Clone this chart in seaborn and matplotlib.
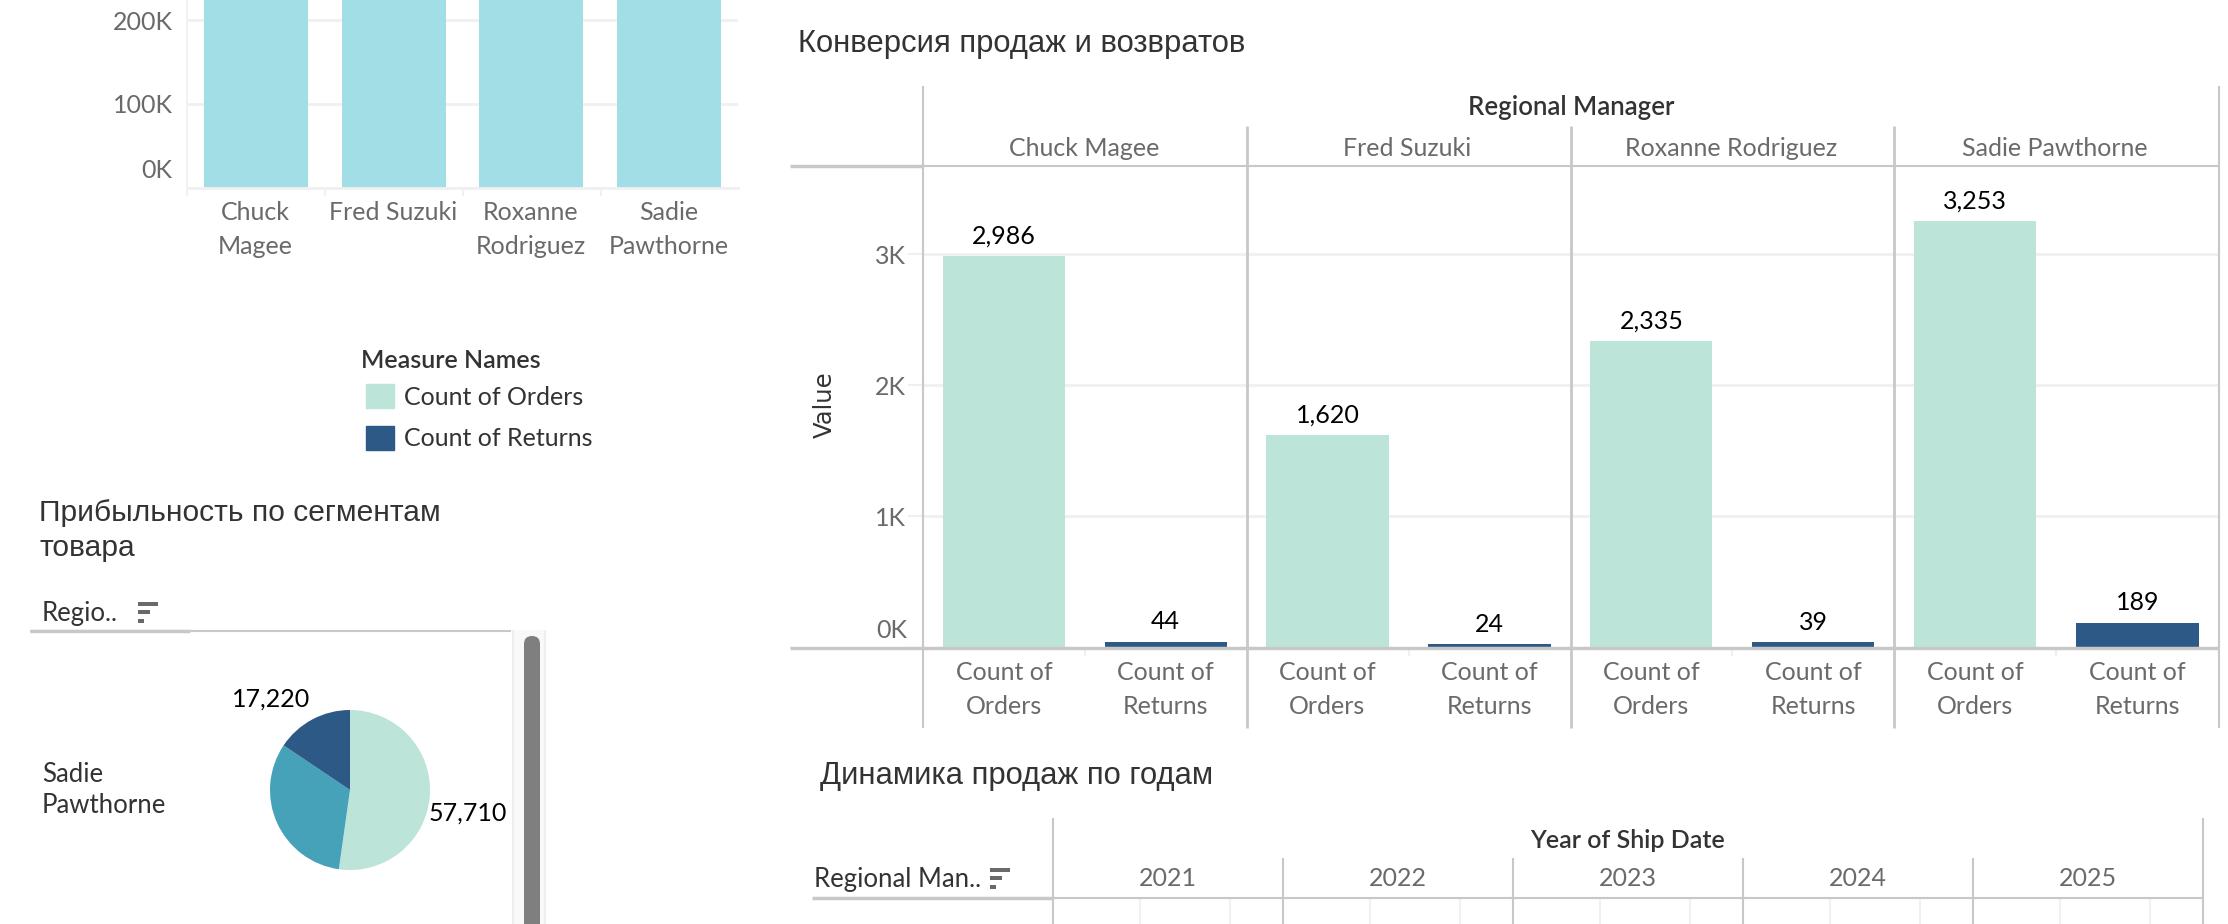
import matplotlib
matplotlib.use("Agg")
import matplotlib.pyplot as plt
from matplotlib.patches import FancyBboxPatch, Patch
from matplotlib.ticker import FuncFormatter
import pandas as pd
import seaborn as sns

# =========================
# DATA
# =========================

managers = ["Chuck Magee", "Fred Suzuki", "Roxanne Rodriguez", "Sadie Pawthorne"]
manager_ticks = ["Chuck\nMagee", "Fred Suzuki", "Roxanne\nRodriguez", "Sadie\nPawthorne"]

# the tops of these bars are cut off by the picture, only the lower part is visible
top_bar_values = [250000, 250000, 250000, 250000]
top_bar_ticks = [0, 100000, 200000]

measures = ["Count of Orders", "Count of Returns"]
measure_ticks = ["Count of\nOrders", "Count of\nReturns"]
orders = [2986, 1620, 2335, 3253]
returns = [44, 24, 39, 189]
value_ticks = [0, 1000, 2000, 3000]

segment_values = [57710, 35570, 17220]
segment_manager = "Sadie\nPawthorne"

years = [2021, 2022, 2023, 2024, 2025]

# =========================
# STYLE
# =========================

W, H = 2228, 924

LIGHT = "#bce4d9"
TEAL = "#46a2b9"
DARK = "#2c5985"
TOP_BAR = "#a2dee5"
GRID = "#f0f0f0"
LINE = "#c8c8c8"
GRAY = "#6a6a6a"
TITLE = "#333333"

sns.set_theme(style="white")
plt.rcParams["font.family"] = ["Lato", "DejaVu Sans"]

fig = plt.figure(figsize=(W / 100, H / 100), dpi=100, facecolor="white")


def px_axes(x0, y0, x1, y1, **kwargs):
    return fig.add_axes([x0 / W, 1 - y1 / H, (x1 - x0) / W, (y1 - y0) / H], **kwargs)


# the zero label sits above the baseline, so it is drawn on its own
def k_format(v, pos):
    return "" if v == 0 else f"{v / 1000:.0f}K"


# =========================
# OVERLAY FOR HEADERS AND LINES
# =========================

chrome = px_axes(0, 0, W, H, zorder=5)
chrome.set_xlim(0, W)
chrome.set_ylim(H, 0)
chrome.axis("off")


def title(x, y, text, size=22.3):
    chrome.text(x, y, text, family="Liberation Sans", fontsize=size, color=TITLE,
                va="center", ha="left")


def sort_icon(x, y):
    for dx, dy in [(20, 0), (12, 8), (6, 17)]:
        chrome.fill_between([x, x + dx], y + dy, y + dy + 4, color=GRAY, lw=0)


# =========================
# TOP LEFT BARS
# =========================

ax_top = px_axes(187, 0, 738, 187.5)
top_df = pd.DataFrame({"manager": managers, "value": top_bar_values})

sns.barplot(data=top_df, x="manager", y="value", color=TOP_BAR, saturation=1,
            width=0.755, linewidth=0, ax=ax_top)

ax_top.set_ylim(0, 224500)
ax_top.set_yticks(top_bar_ticks)
ax_top.yaxis.set_major_formatter(FuncFormatter(k_format))
ax_top.set_xticks([])
ax_top.set_xlabel("")
ax_top.set_ylabel("")
ax_top.grid(axis="y", color=GRID, lw=2)
ax_top.set_axisbelow(True)
ax_top.tick_params(axis="y", length=10, width=1.5, color=GRID, labelsize=18,
                   labelcolor=GRAY, pad=0)
sns.despine(ax=ax_top, top=True, right=True)
ax_top.spines["left"].set_color(GRID)
ax_top.spines["bottom"].set_color(GRID)
ax_top.spines["bottom"].set_linewidth(2)

chrome.text(172, 171, k_format(1e-9, 0), fontsize=18, color=GRAY, ha="right", va="center")

for i, label in enumerate(manager_ticks):
    first_line, _, second_line = label.partition("\n")
    cx = 187 + (i + 0.5) * 138
    chrome.text(cx - 1, 212, first_line, fontsize=18, color=GRAY, ha="center", va="center")
    if second_line:
        chrome.text(cx - 1, 246, second_line, fontsize=18, color=GRAY, ha="center", va="center")
    chrome.vlines(187 + i * 138, 190, 196, color=GRID, lw=1.5)

# =========================
# LEGEND
# =========================

chrome.text(361, 360, "Measure Names", fontsize=18, color=TITLE, weight="semibold",
            ha="left", va="center")

fig.legend(
    handles=[Patch(color=LIGHT, label=measures[0]), Patch(color=DARK, label=measures[1])],
    loc="upper left",
    bbox_to_anchor=(366 / W, 1 - 384 / H),
    frameon=False,
    borderpad=0,
    borderaxespad=0,
    fontsize=18,
    labelcolor=TITLE,
    handlelength=1.12,
    handleheight=1.12,
    handletextpad=0.42,
    labelspacing=0.68,
)

# =========================
# PIE
# =========================

title(39, 513, "Прибыльность по сегментам", size=21.6)
title(39, 548, "товара", size=21.6)

chrome.text(42, 614, "Regio..", fontsize=18.5, color=TITLE, ha="left", va="center")
sort_icon(138, 602)
chrome.hlines(631, 30, 511, color=LINE, lw=1.5)
chrome.hlines(631, 30, 190, color=LINE, lw=2.5)

chrome.fill_between([512, 546], 630, H, color="#f9f9f9", lw=0)
chrome.vlines([513, 545], 630, H, color="#eeeeee", lw=1.5)
chrome.add_patch(FancyBboxPatch((524, 636), 16, H, boxstyle="round,pad=0,rounding_size=8",
                                fc="#7f7f7f", ec="#7f7f7f", lw=0))

ax_pie = px_axes(270, 710, 430, 870)
ax_pie.pie(segment_values, colors=[LIGHT, TEAL, DARK], startangle=90, counterclock=False,
           radius=1, wedgeprops={"linewidth": 0})
ax_pie.set_xlim(-1, 1)
ax_pie.set_ylim(-1, 1)

chrome.text(468, 813, f"{segment_values[0]:,}", fontsize=18, color="black", ha="center", va="center")
chrome.text(271, 699, f"{segment_values[2]:,}", fontsize=18, color="black", ha="center", va="center")
chrome.text(42, 790, segment_manager, fontsize=18.5, color=TITLE, ha="left", va="center",
            linespacing=1.3)

# =========================
# SALES AND RETURNS PANELS
# =========================

title(798, 44, "Конверсия продаж и возвратов")

chart_df = pd.DataFrame({
    "manager": managers * 2,
    "measure": [measures[0]] * 4 + [measures[1]] * 4,
    "value": orders + returns,
})

panel_x = [923, 1246.5, 1570.5, 1894, 2218.5]

for i, manager in enumerate(managers):
    ax = px_axes(panel_x[i], 166, panel_x[i + 1], 647.5)
    sns.barplot(
        data=chart_df[chart_df["manager"] == manager],
        x="measure", y="value", hue="measure", order=measures, hue_order=measures,
        palette=[LIGHT, DARK], saturation=1, width=0.755, legend=False, ax=ax,
        dodge=False, linewidth=0,
    )
    ax.set_ylim(0, 3672)
    ax.set_yticks(value_ticks)
    ax.set_xlabel("")
    ax.set_ylabel("")
    ax.set_xticks([])
    ax.grid(axis="y", color=GRID, lw=2)
    ax.set_axisbelow(True)
    sns.despine(ax=ax, left=True, bottom=True, top=True, right=True)

    for container in ax.containers:
        ax.bar_label(container, fmt="{:,.0f}", padding=6, fontsize=18, color="black")

    if i == 0:
        ax.yaxis.set_major_formatter(FuncFormatter(k_format))
        ax.tick_params(axis="y", length=11, width=1.5, color=GRID, labelsize=18,
                       labelcolor=GRAY, pad=1, left=True)
    else:
        ax.tick_params(axis="y", left=False, labelleft=False)

    cx = (panel_x[i] + panel_x[i + 1]) / 2
    chrome.text(cx - 1, 148, manager, fontsize=18, color=GRAY, ha="center", va="center")
    for j, label in enumerate(measure_ticks):
        first_line, second_line = label.split("\n")
        lx = panel_x[i] + (j + 0.5) * (panel_x[i + 1] - panel_x[i]) / 2
        chrome.text(lx, 672, first_line, fontsize=18, color=GRAY, ha="center", va="center")
        chrome.text(lx, 706, second_line, fontsize=18, color=GRAY, ha="center", va="center")
    chrome.vlines(cx, 650, 656, color=GRID, lw=1.5)

chrome.text(907, 630, k_format(1e-9, 0), fontsize=18, color=GRAY, ha="right", va="center")

chrome.text(1571, 107, "Regional Manager", fontsize=18.5, color=TITLE, weight="semibold",
            ha="center", va="center")
chrome.text(825, 405, "Value", family="DejaVu Sans", fontsize=17.5, color=TITLE, rotation=90,
            ha="center", va="center")

chrome.hlines(166, 790, 923, color=LINE, lw=2.5)
chrome.hlines(166, 923, 2219, color=LINE, lw=1.5)
chrome.hlines(648, 790, 2219, color=LINE, lw=2.5)
chrome.vlines([923, 2219], 86, 728, color=LINE, lw=1.5)
chrome.vlines(panel_x[1:4], 126, 728, color=LINE, lw=2)

# =========================
# YEARLY HEADER
# =========================

title(820, 776, "Динамика продаж по годам")

year_x = [1053, 1283, 1513, 1743, 1973, 2203]

chrome.text(1627, 840, "Year of Ship Date", fontsize=18, color=TITLE, weight="semibold",
            ha="center", va="center")
chrome.text(814, 879, "Regional Man..", fontsize=18.5, color=TITLE, ha="left", va="center")
sort_icon(990, 868)

chrome.hlines(898, 812, 1053, color=LINE, lw=2.5)
chrome.hlines(898, 1053, 2203, color=LINE, lw=1.5)
chrome.vlines([year_x[0], year_x[-1]], 818, H, color=LINE, lw=1.5)
chrome.vlines(year_x[1:-1], 858, H, color=LINE, lw=1.5)

for i, year in enumerate(years):
    chrome.text((year_x[i] + year_x[i + 1]) / 2, 879, str(year), fontsize=18, color=GRAY,
                ha="center", va="center")
    chrome.vlines([year_x[i] + 87, year_x[i] + 177], 899, H, color=GRID, lw=1.5)

# =========================
# SAVE
# =========================

fig.savefig("out.png", dpi=100, facecolor="white")
